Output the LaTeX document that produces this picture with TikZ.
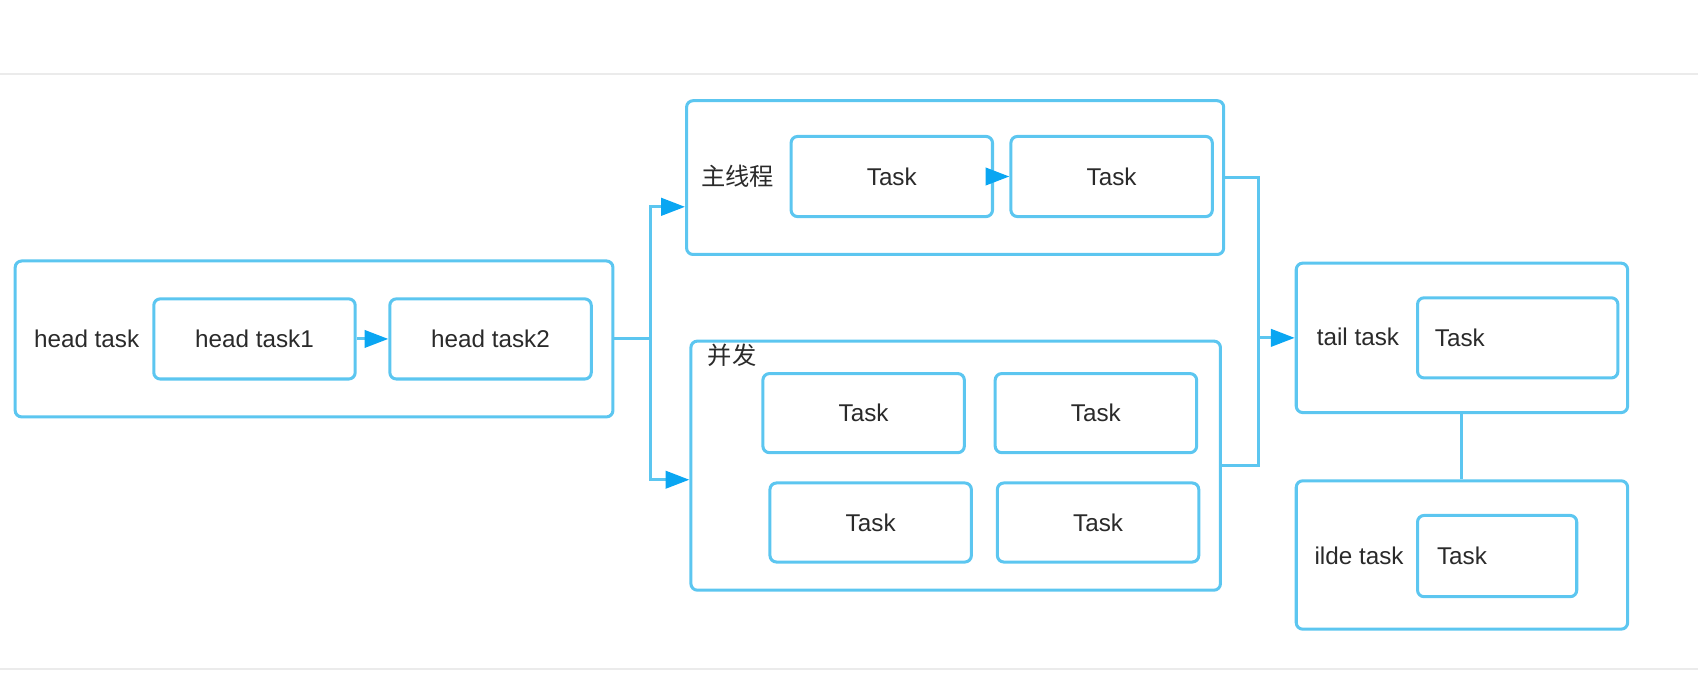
\documentclass[tikz,border=0pt]{standalone}
\usepackage{fontspec}
\setmainfont{Liberation Sans}
\newfontfamily\cjk{Noto Sans CJK SC}
\usetikzlibrary{positioning}
\usetikzlibrary{arrows.meta}
\definecolor{boxblue}{HTML}{5CC6F0}
\definecolor{tipblue}{HTML}{0AA6F2}
\definecolor{txtgray}{HTML}{2A2A2A}
\definecolor{rulegray}{HTML}{EBEBEB}

\begin{document}
\begin{tikzpicture}[x=0.5pt, y=-0.5pt,
                          every node/.style={text=txtgray, font=\fontsize{11.2}{13}\selectfont},
                          groupbox/.style={rectangle, draw=boxblue, line width=1.4pt, rounded corners=3pt},
                          taskbox/.style={rectangle, draw=boxblue, line width=1.4pt, rounded corners=3pt, minimum width=93pt, minimum height=37pt},
                          link/.style={draw=boxblue, line width=1.4pt},
                          arrow/.style={link, -{Triangle[length=11pt, width=8pt, color=tipblue]}},
                      ]
                      \useasboundingbox (0,0) rectangle (1568,640);
                      \draw[rulegray, line width=1pt] (0,68) -- (1568,68);
                      \draw[rulegray, line width=1pt] (0,618) -- (1568,618);

                      % Nodes
                      \node[groupbox, minimum width=276pt, minimum height=72pt]   (headbox)  at (290,313)   {};
                      \node                   (head_lbl)   at (80,313)      {head task};
                      \node[taskbox]          (head_1)     at (235,313)     {head task1};
                      \node[taskbox]          (head_2)     at (453,313)     {head task2};

                      \node[groupbox, minimum width=248pt, minimum height=71pt]   (mainbox)  at (882,164)   {};
                      \node                   (main_lbl)   at (681,163)     {\cjk 主线程};
                      \node[taskbox]          (main_1)     at (823.5,163)   {Task};
                      \node[taskbox]          (main_2)     at (1026.5,163)  {Task};

                      \node[groupbox, minimum width=244.5pt, minimum height=115pt] (concbox) at (882.5,430) {};
                      \node                   (conc_lbl)   at (676,328)     {\cjk 并发};
                      \node[taskbox, minimum height=36.5pt] (conc_1) at (797.5,381.5) {Task};
                      \node[taskbox, minimum height=36.5pt] (conc_2) at (1012,381.5)  {Task};
                      \node[taskbox, minimum height=36.5pt] (conc_3) at (804,482.5)   {Task};
                      \node[taskbox, minimum height=36.5pt] (conc_4) at (1014,482.5)  {Task};

                      \node[groupbox, minimum width=153pt, minimum height=69pt]   (tailbox)  at (1350,312)  {};
                      \node                   (tail_lbl)   at (1254,311)    {tail task};
                      \node[taskbox, minimum width=92.5pt, inner xsep=8pt, text width=76.5pt, align=left] (tail_1) at (1401.5,312) {Task};

                      \node[groupbox, minimum width=153pt, minimum height=68.5pt] (idlebox)  at (1350,512.5) {};
                      \node                   (idle_lbl)   at (1255,513)    {ilde task};
                      \node[taskbox, minimum width=73.5pt, minimum height=37.5pt, inner xsep=9pt, text width=55.5pt, align=left] (idle_1) at (1382.5,513.5) {Task};

                      \coordinate (fork) at (601,313);
                      \coordinate (join) at (1162,312);

                      %Lines
                      \draw[arrow] (head_1.east) -- (head_2.west);
                      \draw[arrow] (main_1.east) -- (main_2.west);
                      \draw[link] (headbox.east) -- (fork);
                      \draw[arrow] (fork) |- ([yshift=-13.5pt]mainbox.west);
                      \draw[arrow] (fork) |- ([yshift=-6.5pt]concbox.west);
                      \draw[link] (mainbox.east) -| (join) |- (concbox.east);
                      \draw[arrow] (join) -- (tailbox.west);
                      \draw[link] (tailbox.south) -- (idlebox.north);
                  \end{tikzpicture}
\end{document}
